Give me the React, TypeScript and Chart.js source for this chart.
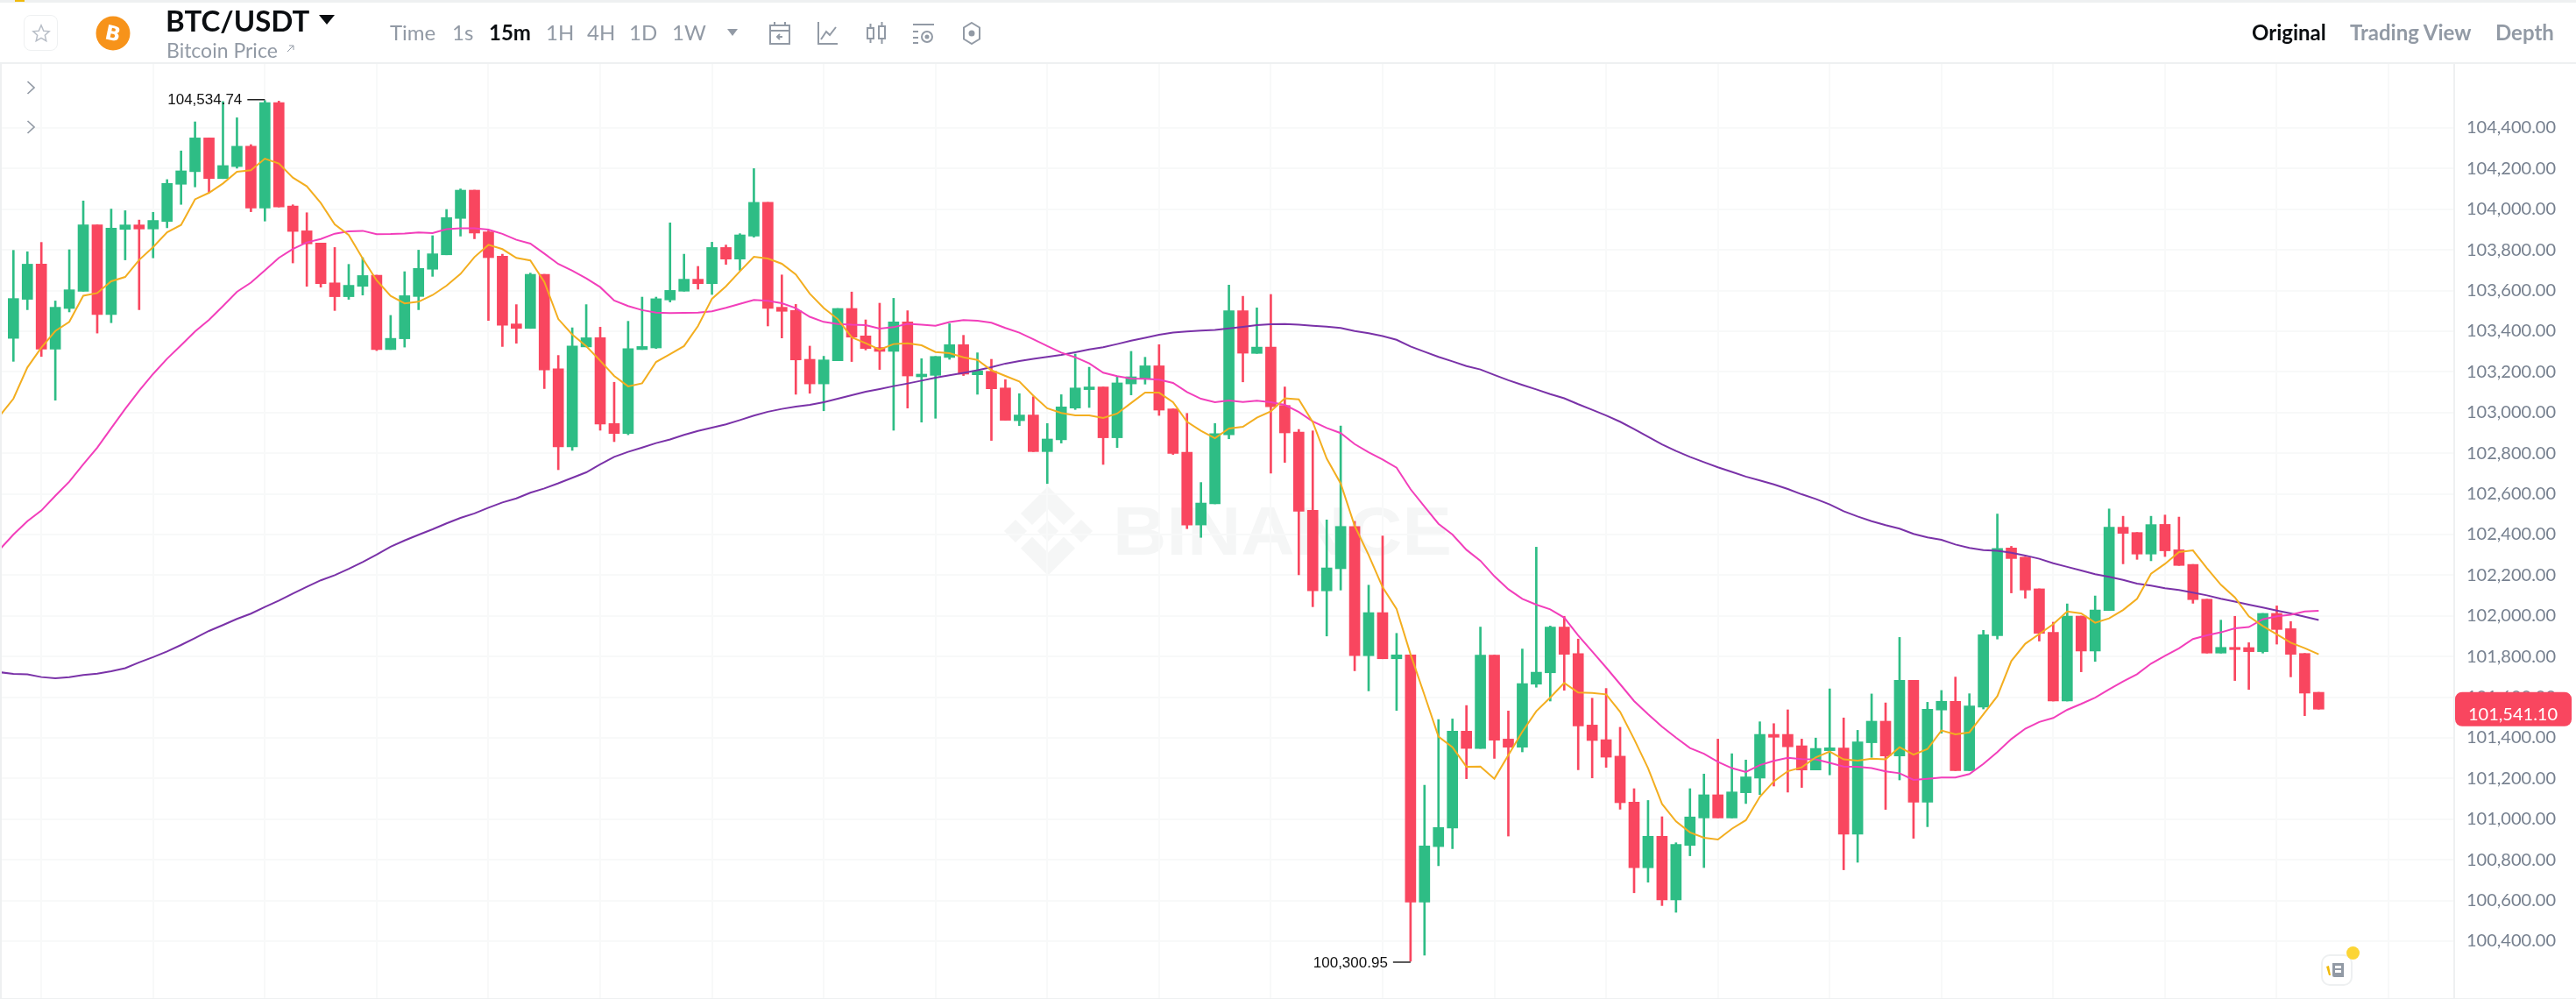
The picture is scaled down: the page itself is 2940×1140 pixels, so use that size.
import React, { useEffect, useRef } from "react";
import { Chart, registerables } from "chart.js";

Chart.register(...registerables);

const opens = [
103365,103557,103730,103312,103512,103597,103923,103482,103901,103923,103903,103940,104123,104185,104351,104151,104210,104310,104006,104525,
104016,103894,103834,103638,103570,103621,103676,103310,103363,103571,103705,103776,103955,104094,103889,103769,103436,103414,103680,103215,
102831,103323,103368,102946,102897,103310,103318,103554,103597,103656,103634,103812,103755,103868,104034,103518,103502,103262,103141,103255,
103512,103377,103320,103301,103446,103176,103183,103271,103334,103186,103203,103121,102960,102988,102808,102866,103022,103113,103126,102876,
103141,103169,103230,103018,102805,102447,102551,102891,103501,103291,103322,103035,102904,102519,102123,102232,102440,101804,102016,101789,
101808,100592,100865,100956,101433,101348,101807,101394,101354,101664,101720,101945,101815,101463,101391,101310,101084,100761,100916,100603,
100871,101006,101120,101006,101130,101202,101417,101417,101361,101242,101337,101350,100926,101376,101482,101311,101683,101083,101537,101580,
101239,101551,101903,102334,102289,102133,101919,101581,101999,101827,102026,102436,102410,102304,102450,102325,102253,102082,101817,101845,
101844,101824,102012,101937,101815,101624];

const closes = [
103561,103730,103312,103518,103604,103923,103482,103907,103923,103903,103945,104127,104189,104351,104151,104215,104310,104006,104525,104011,
103891,103830,103634,103570,103626,103674,103310,103365,103575,103709,103781,103959,104094,103883,103762,103430,103414,103680,103210,102831,
103328,103368,102943,102897,103315,103325,103560,103601,103656,103634,103812,103755,103874,104034,103512,103498,103259,103141,103259,103512,
103371,103315,103301,103446,103180,103189,103276,103334,103189,103205,103117,102962,102988,102808,102870,103028,103121,103126,102876,103146,
103176,103230,103012,102799,102447,102555,102896,103501,103292,103322,103029,102900,102515,102123,102236,102440,101804,102016,101789,101808,
100592,100868,100959,101433,101348,101807,101388,101354,101667,101723,101945,101811,101459,101387,101305,101081,100761,100916,100603,100876,
101011,101120,101006,101134,101208,101417,101403,101356,101242,101348,101351,100926,101380,101482,101311,101683,101083,101541,101580,101239,
101557,101907,102332,102282,102127,101914,101581,101999,101827,102029,102436,102406,102304,102449,102320,102248,102080,101817,101845,101834,
101824,102012,101933,101811,101620,101541.10];

const highs = [
103798,103791,103837,103549,103801,104041,103923,104001,103993,103947,103985,104146,104287,104430,104351,104530,104450,104318,104534.74,104532,
104022,103983,103834,103812,103729,103762,103676,103478,103693,103799,103870,103999,104100,104094,103894,103779,103531,103686,103680,103281,
103417,103531,103420,103149,103449,103568,103568,103933,103779,103719,103838,103824,103880,104200,104034,103677,103532,103327,103277,103512,
103593,103456,103538,103562,103501,103265,103276,103437,103380,103294,103262,103162,103093,103078,102946,103088,103288,103223,103126,103179,
103301,103272,103334,103018,102996,102656,102946,103627,103572,103515,103581,103126,102917,102910,102472,102934,102465,102151,102393,101914,
101808,101167,101490,101493,101559,101945,101807,101532,101837,102338,101950,101998,101886,101595,101643,101452,101150,101092,101012,100884,
101150,101222,101394,101322,101291,101479,101470,101538,101394,101399,101641,101498,101437,101616,101572,101894,101683,101575,101633,101699,
101617,101929,102501,102342,102289,102133,101969,102059,101999,102098,102526,102490,102410,102490,102496,102486,102253,102082,101979,101998,
101868,102012,102049,101972,101815,101624];

const lows = [
103252,103506,103276,103061,103495,103597,103391,103442,103751,103506,103761,103909,104024,104110,104081,104151,104202,103988,103942,104011,
103736,103621,103617,103502,103557,103578,103305,103310,103322,103506,103670,103776,103868,103855,103453,103325,103341,103414,103118,102719,
102814,103323,102913,102857,102891,103310,103315,103544,103597,103607,103581,103729,103700,103863,103426,103367,103090,103095,103009,103255,
103251,103308,103212,102913,103022,102953,102972,103262,103182,103090,102863,102962,102936,102808,102651,102850,103015,103025,102745,102828,
103087,103140,102986,102794,102429,102386,102551,102871,103151,103291,102702,102755,102202,102045,101901,102127,101730,101631,101789,101535,
100300.95,100331,100771,100855,101199,101348,101299,100917,101331,101649,101581,101634,101243,101203,101255,101049,100638,100690,100575,100542,
100820,100762,101006,101006,101077,101121,101163,101133,101156,101242,101218,100751,100788,101304,101048,101193,100906,100963,101423,101239,
101239,101542,101886,102113,102087,101876,101581,101581,101725,101776,102026,102256,102278,102271,102292,102248,102062,101817,101817,101682,
101638,101817,101861,101700,101509,101541.10];

// the three moving averages start one slot before the first candle
const ma7 = [
102982,103068,103222,103320,103401,103446,103575,103588,103646,103667,103751,103814,103887,103923,104049,104081,104127,104185,104192,104249,
104225,104156,104113,104031,103926,103873,103758,103650,103574,103537,103545,103578,103624,103682,103765,103825,103804,103761,103748,103643,
103460,103384,103327,103255,103180,103129,103144,103249,103287,103327,103426,103560,103621,103695,103766,103758,103732,103679,103585,103514,
103460,103370,103341,103310,103337,103341,103331,103298,103292,103272,103259,103208,103180,103153,103083,103021,102998,102986,102986,102973,
102995,103047,103098,103098,103051,102955,102910,102874,102922,102930,102975,103006,103070,103065,102953,102774,102651,102443,102299,102141,
102034,101811,101610,101406,101354,101258,101259,101199,101315,101430,101531,101598,101670,101623,101621,101614,101528,101394,101251,101075,
100989,100935,100909,100900,100953,100995,101110,101186,101236,101255,101304,101333,101294,101288,101298,101294,101354,101317,101345,101436,
101417,101427,101516,101605,101778,101863,101911,101959,102022,102012,101966,101988,102029,102084,102207,102256,102314,102322,102235,102153,
102091,101998,101950,101909,101868,101841,101811];

const ma25 = [
102325,102400,102466,102518,102591,102660,102745,102827,102923,103018,103107,103190,103265,103331,103399,103456,103524,103594,103639,103700,
103761,103805,103837,103854,103880,103891,103894,103877,103878,103881,103886,103883,103902,103907,103906,103900,103879,103850,103831,103782,
103731,103698,103660,103617,103551,103524,103504,103492,103489,103491,103492,103498,103515,103535,103554,103550,103538,103514,103471,103446,
103436,103432,103430,103413,103420,103437,103432,103427,103445,103455,103452,103442,103416,103393,103361,103327,103295,103272,103242,103196,
103179,103167,103166,103162,103146,103101,103068,103051,103060,103052,103058,103051,103038,103003,102957,102924,102899,102845,102805,102769,
102729,102623,102537,102453,102400,102325,102271,102195,102131,102084,102055,102032,101991,101904,101825,101746,101664,101581,101516,101455,
101401,101350,101322,101282,101251,101232,101266,101287,101302,101295,101294,101277,101259,101258,101251,101235,101226,101193,101199,101205,
101205,101222,101272,101330,101394,101445,101478,101498,101538,101567,101598,101639,101677,101713,101765,101804,101840,101886,101904,101919,
101939,101945,101983,101998,102006,102022,102025];

const ma99 = [
101723,101715,101712,101699,101693,101699,101709,101716,101728,101743,101771,101797,101825,101857,101891,101926,101955,101985,102011,102044,
102075,102110,102143,102175,102200,102231,102265,102301,102340,102371,102399,102426,102455,102482,102504,102532,102558,102578,102606,102627,
102652,102679,102706,102745,102782,102807,102828,102850,102868,102890,102910,102926,102942,102963,102985,103004,103018,103029,103038,103051,
103068,103085,103103,103116,103130,103143,103157,103172,103183,103195,103208,103223,103241,103253,103264,103274,103284,103297,103311,103321,
103337,103354,103368,103383,103394,103399,103403,103407,103414,103422,103430,103435,103436,103432,103427,103423,103416,103401,103390,103376,
103358,103325,103299,103274,103252,103229,103212,103185,103159,103136,103114,103091,103070,103041,103014,102986,102955,102919,102881,102843,
102811,102782,102756,102731,102708,102685,102666,102647,102624,102598,102575,102548,102515,102489,102466,102446,102429,102403,102386,102374,
102351,102334,102324,102320,102311,102297,102281,102259,102241,102223,102205,102192,102177,102159,102149,102136,102127,102114,102101,102084,
102070,102055,102041,102026,102012,101996,101980];

const priceTicks = [104400,104200,104000,103800,103600,103400,103200,103000,102800,102600,102400,102200,102000,101800,101600,101400,101200,101000,100800,100600,100400];
const timeTicks = [2,10,18,26,34,42,50,58,66,74,82,90,98,106,114,122,130,138,146,154,162,170];
const intervals = ["Time","1s","15m","1H","4H","1D","1W"];
const lastPrice = 101541.10;

const UP = "#2EBD85";
const DOWN = "#F9465F";
const GRID = "#F8F9F9";
const LINE = "#EEF0F1";
const UI_FONT = "Lato, 'Liberation Sans', sans-serif";
const fmt = (v: number) => v.toLocaleString("en-US", { minimumFractionDigits: 2, maximumFractionDigits: 2 });
const barColor = (ctx: any) => (closes[ctx.dataIndex] >= opens[ctx.dataIndex] ? UP : DOWN);
const maPoints = (arr: number[]) => arr.map((y, i) => ({ x: i - 1, y }));

const marks = {
  id: "marks",
  afterDraw(chart: any) {
    const { ctx, scales } = chart;
    const x = scales.x, y = scales.y;
    const hiV = Math.max(...highs), loV = Math.min(...lows);
    const hiX = x.getPixelForValue(highs.indexOf(hiV));
    const loX = x.getPixelForValue(lows.indexOf(loV));
    ctx.save();
    ctx.fillStyle = "#111";
    ctx.strokeStyle = "#222";
    ctx.lineWidth = 1.5;
    ctx.font = "17px 'Liberation Sans'";
    ctx.textAlign = "right";
    ctx.textBaseline = "middle";
    const hiY = y.getPixelForValue(hiV) - 1;
    ctx.beginPath(); ctx.moveTo(hiX - 20, hiY); ctx.lineTo(hiX, hiY); ctx.stroke();
    ctx.fillText(fmt(hiV), hiX - 26, hiY + 1);
    const loY = y.getPixelForValue(loV) + 1;
    ctx.beginPath(); ctx.moveTo(loX - 20, loY); ctx.lineTo(loX, loY); ctx.stroke();
    ctx.fillText(fmt(loV), loX - 26, loY + 1);
    const py = y.getPixelForValue(lastPrice);
    ctx.fillStyle = DOWN;
    ctx.beginPath();
    ctx.roundRect(2802, py - 19.5, 133, 39, 8);
    ctx.fill();
    ctx.fillStyle = "#fff";
    ctx.font = `20px ${UI_FONT}`;
    ctx.textAlign = "left";
    ctx.fillText(fmt(lastPrice), 2817, py + 6);
    ctx.restore();
  },
};

const abs = (l: number, t: number, w: number, h: number): React.CSSProperties => ({ position: "absolute", left: l, top: t, width: w, height: h });

function Txt({ x, y, size, color, weight, children }: any) {
  return (
    <div style={{ position: "absolute", left: x, top: y, transform: "translateY(-50%)", fontFamily: UI_FONT, fontSize: size, color, fontWeight: weight || 400, whiteSpace: "nowrap", lineHeight: 1 }}>
      {children}
    </div>
  );
}

const ICON = "#929AA5";

function Header() {
  const xs = [445, 516, 558, 623, 670, 718, 767];
  return (
    <>
      <div style={{ ...abs(0, 0, 2940, 3), background: LINE }} />
      <div style={{ ...abs(17, 0, 11, 2), background: "#F0B90B" }} />
      <div style={{ ...abs(0, 71, 2940, 2), background: LINE }} />
      <div style={{ ...abs(0, 73, 2, 1067), background: LINE }} />
      <div style={{ ...abs(0, 1139, 2940, 1), background: LINE }} />
      <div style={{ ...abs(27, 17, 39, 41), border: "1px solid #EEF0F1", borderRadius: 8, boxSizing: "border-box" }} />
      <svg style={abs(36, 27, 22, 22)} viewBox="0 0 24 24">
        <polygon points="12,2 15,9 22,9.6 16.7,14.4 18.3,21.5 12,17.8 5.7,21.5 7.3,14.4 2,9.6 9,9" fill="none" stroke="#B7BDC6" strokeWidth="1.6" />
      </svg>
      <svg style={abs(109, 18, 40, 40)} viewBox="0 0 40 40">
        <circle cx="20" cy="20" r="19.5" fill="#F7931A" />
        <text x="20" y="28" textAnchor="middle" fontFamily="'DejaVu Sans'" fontWeight="700" fontSize="23" fill="#fff" transform="rotate(12 20 20)">B</text>
      </svg>
      <Txt x={189} y={23} size={33} color="#0B0E11" weight={700}>BTC/USDT</Txt>
      <svg style={abs(364, 17, 18, 11)} viewBox="0 0 18 11"><polygon points="0,0 18,0 9,11" fill="#0B0E11" /></svg>
      <Txt x={190} y={57} size={23} color={ICON}>Bitcoin Price</Txt>
      <svg style={abs(326, 50, 11, 11)} viewBox="0 0 11 11"><path d="M2 9 L9 2 M4 2 H9 V7" stroke={ICON} strokeWidth="1" fill="none" /></svg>
      {intervals.map((t, i) => (
        <Txt key={t} x={xs[i]} y={37} size={24} color={t === "15m" ? "#0B0E11" : ICON} weight={t === "15m" ? 700 : 400}>{t}</Txt>
      ))}
      <svg style={abs(830, 33, 12, 8)} viewBox="0 0 12 8"><polygon points="0,0 12,0 6,8" fill={ICON} /></svg>
      <svg style={abs(878, 25, 24, 26)} viewBox="0 0 24 26" fill="none" stroke={ICON} strokeWidth="2">
        <rect x="1" y="4" width="22" height="21" /><path d="M1 10 H23 M6 0 V4 M18 0 V4 M15 17 H9 M12 14 L9 17 L12 20" />
      </svg>
      <svg style={abs(933, 25, 24, 26)} viewBox="0 0 24 26" fill="none" stroke={ICON} strokeWidth="2">
        <path d="M1 0 V25 H23 M4 20 L10 11 L14 15 L21 6" />
      </svg>
      <svg style={abs(989, 25, 22, 26)} viewBox="0 0 22 26" fill="none" stroke={ICON} strokeWidth="2">
        <rect x="1" y="7" width="7" height="12" /><rect x="14" y="5" width="7" height="14" /><path d="M4.5 2 V7 M4.5 19 V24 M17.5 0 V5 M17.5 19 V25" />
      </svg>
      <svg style={abs(1042, 25, 24, 26)} viewBox="0 0 24 26" fill="none" stroke={ICON} strokeWidth="2">
        <path d="M0 3 H24 M0 11 H6 M0 18 H6 M0 24 H6" /><circle cx="16" cy="17" r="6" /><circle cx="16" cy="17" r="1.5" fill={ICON} />
      </svg>
      <svg style={abs(1099, 25, 20, 26)} viewBox="0 0 20 26" fill="none" stroke={ICON} strokeWidth="2">
        <polygon points="10,1 19,6.5 19,19.5 10,25 1,19.5 1,6.5" /><circle cx="10" cy="13" r="2.5" fill={ICON} />
      </svg>
      <Txt x={2570} y={37} size={24} color="#0B0E11" weight={700}>Original</Txt>
      <Txt x={2682} y={37} size={24} color={ICON} weight={700}>Trading View</Txt>
      <Txt x={2848} y={37} size={24} color={ICON} weight={700}>Depth</Txt>
      {[100, 145].map((cy) => (
        <svg key={cy} style={abs(30, cy - 8, 11, 16)} viewBox="0 0 11 16"><path d="M1.5 1 L9 8 L1.5 15" stroke={ICON} strokeWidth="1.7" fill="none" /></svg>
      ))}
    </>
  );
}

function Watermark() {
  return (
    <svg style={abs(1140, 550, 530, 112)} viewBox="1140 550 530 112">
      <g fill="#F5F6F6">
        <polygon points="1196,555 1227,586 1214,599 1196,581 1178,599 1165,586" />
        <polygon points="1196,656.7 1227,625.7 1214,612.7 1196,630.7 1178,612.7 1165,625.7" />
        <polygon points="1146,606 1159,593 1172,606 1159,619" />
        <polygon points="1247,606 1234,593 1221,606 1234,619" />
        <polygon points="1196,594 1208,606 1196,618 1184,606" />
        <text x="1270" y="633" fontFamily="'Liberation Sans'" fontWeight="700" fontSize="77" textLength="387" lengthAdjust="spacingAndGlyphs">BINANCE</text>
      </g>
    </svg>
  );
}

function FloatIcon() {
  return (
    <>
      <div style={{ ...abs(2649, 1089, 36, 36), border: "2px solid #EEF0F1", borderRadius: 10, boxSizing: "border-box", background: "#fff" }} />
      <svg style={abs(2655, 1096, 24, 22)} viewBox="0 0 24 22">
        <polygon points="0,7 3,6 5,17 3,17" fill="#F0B90B" />
        <path d="M7 3 H20 V19 H9 Q7 19 7 17 Z" fill="#929AA5" />
        <rect x="10" y="6" width="7" height="3" fill="#fff" /><rect x="10" y="11" width="7" height="3" fill="#fff" />
      </svg>
      <div style={{ ...abs(2678, 1080, 15, 15), borderRadius: "50%", background: "#FCD535" }} />
    </>
  );
}

export default function App() {
  const ref = useRef<HTMLCanvasElement>(null);
  useEffect(() => {
    const chart = new Chart(ref.current as HTMLCanvasElement, {
      type: "bar",
      data: {
        datasets: [
          { type: "bar", data: highs.map((h, i) => ({ x: i, y: [lows[i], h] })), backgroundColor: barColor, barThickness: 2, grouped: false, order: 6 },
          { type: "bar", data: opens.map((o, i) => ({ x: i, y: [o, closes[i]] })), backgroundColor: barColor, barThickness: 12, grouped: false, order: 5 },
          { type: "line", data: maPoints(ma99), borderColor: "#7A32A8", borderWidth: 2, pointRadius: 0, tension: 0, order: 3 },
          { type: "line", data: maPoints(ma25), borderColor: "#F23FBB", borderWidth: 2, pointRadius: 0, tension: 0, order: 2 },
          { type: "line", data: maPoints(ma7), borderColor: "#F3AE20", borderWidth: 2, pointRadius: 0, tension: 0, order: 1 },
        ] as any,
      },
      options: {
        responsive: false,
        animation: false,
        devicePixelRatio: 1,
        events: [],
        layout: { padding: { top: 73, left: 2, right: 0, bottom: 1 } },
        plugins: { legend: { display: false }, tooltip: { enabled: false } },
        scales: {
          x: {
            type: "linear",
            offset: false,
            min: -0.834,
            max: 174.7,
            afterBuildTicks: (s: any) => { s.ticks = timeTicks.map((value) => ({ value })); },
            afterFit: (s: any) => { s.height = 0; s.paddingLeft = 0; s.paddingRight = 0; s.paddingTop = 0; s.paddingBottom = 0; },
            ticks: { display: false },
            grid: { color: GRID, lineWidth: 2, drawTicks: false, offset: false },
            border: { display: false },
          },
          y: {
            position: "right",
            min: 100119.8,
            max: 104714.7,
            afterBuildTicks: (s: any) => { s.ticks = priceTicks.map((value) => ({ value })); },
            afterFit: (s: any) => { s.width = 139; s.paddingTop = 0; s.paddingBottom = 0; s.paddingLeft = 0; s.paddingRight = 0; },
            ticks: { color: "#76808F", padding: 14, font: { family: UI_FONT, size: 20 }, callback: (v: any) => fmt(Number(v)) },
            grid: { color: GRID, lineWidth: 2, drawTicks: false },
            border: { display: true, color: LINE, width: 2 },
          },
        },
      } as any,
      plugins: [marks],
    });
    return () => chart.destroy();
  }, []);
  return (
    <div style={{ ...abs(0, 0, 2940, 1140), background: "#fff", overflow: "hidden" }}>
      <Watermark />
      <canvas ref={ref} width={2940} height={1140} style={{ ...abs(0, 0, 2940, 1140) }} />
      <Header />
      <FloatIcon />
    </div>
  );
}
